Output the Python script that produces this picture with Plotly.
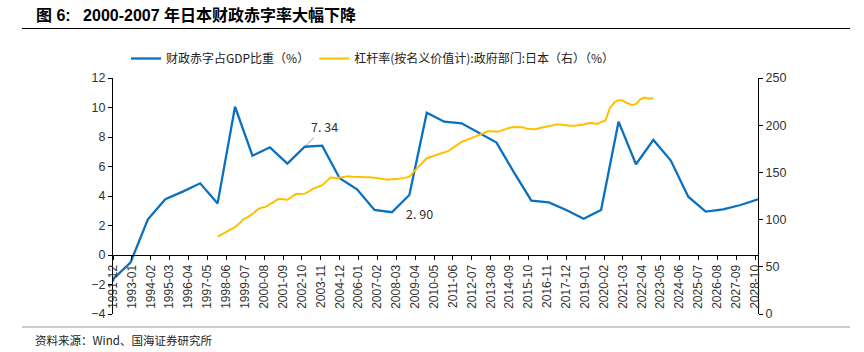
import plotly.graph_objects as go
import pandas as pd

# ---------------- data ----------------
years = list(range(1991, 2029))
deficit = [-1.63, -0.52, 2.42, 3.78, 4.30, 4.86, 3.50, 10.05, 6.73, 7.30,
           6.20, 7.34, 7.41, 5.20, 4.45, 3.05, 2.90, 4.07, 9.65, 9.04,
           8.93, 8.25, 7.62, 5.60, 3.68, 3.57, 3.05, 2.46, 3.05, 9.04,
           6.15, 7.80, 6.40, 3.95, 2.94, 3.10, 3.39, 3.78]

leverage_start = "1997-12-01"
leverage = [82, 84.5, 87, 89, 92, 96, 100.5, 103, 106, 110,
            112.5, 113.5, 116, 119, 122, 121.5, 121, 124, 127, 127,
            127.5, 130, 133, 134.5, 136.5, 140.5, 144.8, 143.8, 144.5, 145.2,
            146, 145.5, 145, 144.8, 144.8, 144.8, 144.4, 143.7, 143, 142.2,
            142.5, 143, 143.6, 144.2, 145.5, 150.5, 155.5, 160, 165, 166.5,
            168, 169.4, 171, 172.7, 176, 179, 182.4, 184, 185.8, 187.6,
            190, 191.5, 193.6, 193.5, 193.2, 194, 196, 197.3, 198.2, 198.2,
            197.8, 196.2, 195.6, 195.8, 197, 198.3, 199.2, 200, 201, 200.5,
            199.8, 199.3, 199.5, 200, 200.8, 202, 202.4, 201.4, 203, 205,
            218, 224, 226.7, 226, 223.5, 221.5, 222.3, 227.5, 229.4, 228,
            228.5]

tick_labels = ["1991-12", "1993-01", "1994-02", "1995-03", "1996-04", "1997-05",
               "1998-06", "1999-07", "2000-08", "2001-09", "2002-10", "2003-11",
               "2004-12", "2006-01", "2007-02", "2008-03", "2009-04", "2010-05",
               "2011-06", "2012-07", "2013-08", "2014-09", "2015-10", "2016-11",
               "2017-12", "2019-01", "2020-02", "2021-03", "2022-04", "2023-05",
               "2024-06", "2025-07", "2026-08", "2027-09", "2028-10"]

name1 = "财政赤字占GDP比重（%）"
name2 = "杠杆率(按名义价值计):政府部门:日本（右）（%）"
title = "图 6:\u2002 2000-2007 年日本财政赤字率大幅下降"
source = "资料来源：Wind、国海证券研究所"

# ---------------- layout helpers ----------------
W, H = 864, 352
L, R, T, B = 113, 758, 78, 314


def px(x):
    return (x - L) / (R - L)


def py(y):
    return (B - y) / (B - T)


annual_dates = [f"{y}-12-01" for y in years]
q_dates = pd.date_range(leverage_start, periods=len(leverage), freq="3MS")

CJK = "Noto Sans CJK SC"
NUM = "Liberation Sans"
MIX = "Liberation Sans, Noto Sans CJK SC"

fig = go.Figure()
fig.add_trace(go.Scatter(x=annual_dates, y=deficit, mode="lines", name=name1,
                         line=dict(color="#0A70C0", width=2.3)))
fig.add_trace(go.Scatter(x=q_dates, y=leverage, mode="lines", name=name2, yaxis="y2",
                         line=dict(color="#FFC000", width=2.0)))

fig.update_layout(
    width=W, height=H,
    margin=dict(l=L, r=W - R, t=T, b=H - B, pad=0),
    paper_bgcolor="white", plot_bgcolor="white",
    showlegend=True,
    legend=dict(orientation="h", x=px(126), y=py(44), xanchor="left", yanchor="top",
                font=dict(family=CJK, size=12, color="#222"),
                bgcolor="rgba(0,0,0,0)", itemwidth=30, tracegroupgap=0),
    xaxis=dict(type="date", range=["1991-12-01", "2028-12-01"],
               anchor="free", position=py(255),
               tickmode="array", tickvals=[t + "-01" for t in tick_labels], ticktext=tick_labels,
               tickangle=-90, ticks="outside", ticklen=4, tickcolor="#000",
               showline=True, linecolor="#000", linewidth=1,
               showgrid=False, zeroline=False,
               tickfont=dict(family=NUM, size=12, color="#333")),
    yaxis=dict(range=[-4, 12], dtick=2, tick0=0, showgrid=False, zeroline=False,
               showline=True, linecolor="#000", linewidth=1,
               ticks="outside", ticklen=4, tickcolor="#000",
               tickfont=dict(family=NUM, size=12.5, color="#333"), anchor="x"),
    yaxis2=dict(range=[0, 250], dtick=50, overlaying="y", side="right", anchor="x",
                showgrid=False, zeroline=False,
                showline=True, linecolor="#000", linewidth=1,
                ticks="outside", ticklen=4, tickcolor="#000",
                tickfont=dict(family=NUM, size=12.5, color="#333")),
)

annotations = [
    dict(x="2002-12-01", y=7.34, xref="x", yref="y", text="7. 34", showarrow=True,
         arrowhead=0, arrowwidth=1, arrowcolor="#999", ax=20, ay=-20, standoff=1,
         font=dict(family=CJK, size=12.5, color="#333")),
    dict(x="2007-12-01", y=2.90, xref="x", yref="y", text="2. 90", showarrow=False,
         xshift=28, yshift=-1, font=dict(family=CJK, size=12.5, color="#333")),
    dict(x=px(34), y=py(15), xref="paper", yref="paper", text="<b>" + title + "</b>",
         showarrow=False, xanchor="left", yanchor="middle",
         font=dict(family=MIX, size=16, color="#000")),
    dict(x=px(33), y=py(340), xref="paper", yref="paper", text=source,
         showarrow=False, xanchor="left", yanchor="middle",
         font=dict(family=CJK, size=11.5, color="#222")),
]
fig.update_layout(annotations=annotations)

fig.update_layout(shapes=[
    dict(type="line", xref="paper", yref="paper", x0=px(22), x1=px(850), y0=py(28.5), y1=py(28.5),
         line=dict(color="#000", width=1)),
    dict(type="line", xref="paper", yref="paper", x0=px(22), x1=px(850), y0=py(327), y1=py(327),
         line=dict(color="#999", width=1)),
])

fig.write_html("out.html")
